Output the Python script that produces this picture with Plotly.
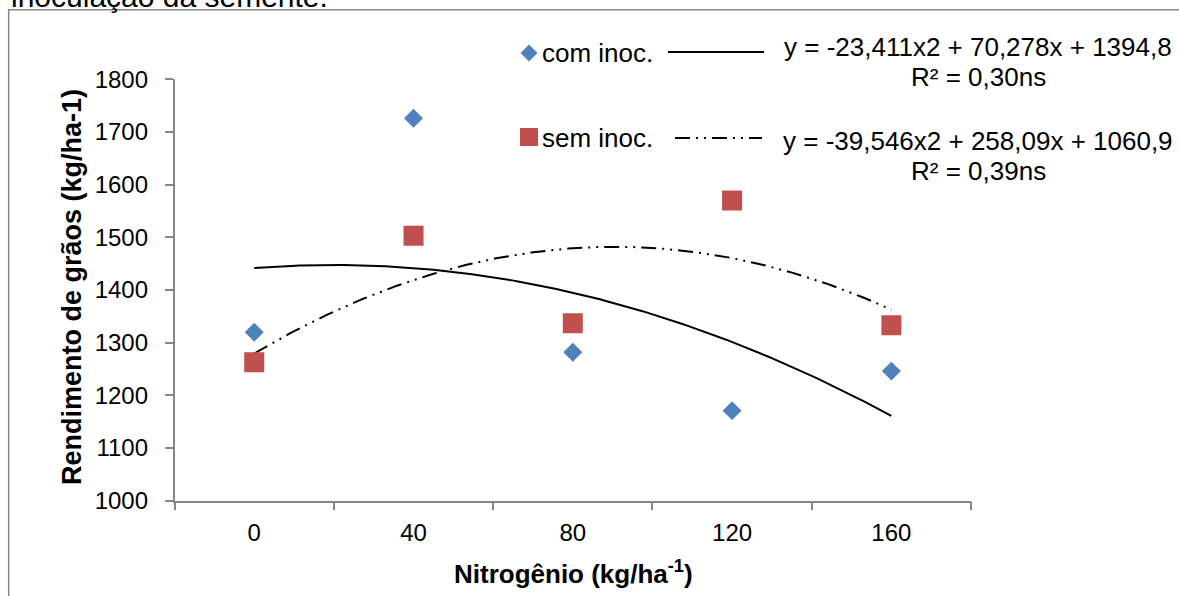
import numpy as np
import plotly.graph_objects as go

# ---------------- data ----------------
categories = ["0", "40", "80", "120", "160"]
com_inoc = [1320, 1726, 1282, 1171, 1246]
sem_inoc = [1263, 1503, 1337, 1570, 1333]
# displayed trendline equations (Excel polynomial, x = category index 1..5)
com_coef = [-23.411, 70.278, 1394.8]
sem_coef = [-39.546, 258.09, 1060.9]
com_r2 = "0,30ns"
sem_r2 = "0,39ns"
y_ticks = [1000, 1100, 1200, 1300, 1400, 1500, 1600, 1700, 1800]

W, H = 1179, 596
FONT = "Liberation Sans, Arial, sans-serif"
BLUE = "#4F81BD"
RED = "#C0504D"
AXC = "#868686"


def px(x):
    return x / W


def py(y):
    return 1 - y / H


xpos = list(range(1, len(categories) + 1))
xfine = np.linspace(1, len(categories), 200)


def poly(c, x):
    return c[0] * x ** 2 + c[1] * x + c[2]


def eq_text(c):
    def f(v):
        return ("%g" % v).replace(".", ",")
    return "y = %sx2 + %sx + %s" % (f(c[0]), f(c[1]), f(c[2]))


fig = go.Figure()
fig.add_trace(go.Scatter(x=xfine, y=poly(com_coef, xfine), mode="lines",
                         line=dict(color="black", width=2), showlegend=False))
fig.add_trace(go.Scatter(x=xfine, y=poly(sem_coef, xfine), mode="lines",
                         line=dict(color="black", width=2,
                                   dash="15px,6px,2px,6px,2px,6px"),
                         showlegend=False))
fig.add_trace(go.Scatter(x=xpos, y=com_inoc, mode="markers", name="com inoc.",
                         marker=dict(symbol="diamond", size=14.6, color=BLUE,
                                     line=dict(width=0)), showlegend=False))
fig.add_trace(go.Scatter(x=xpos, y=sem_inoc, mode="markers", name="sem inoc.",
                         marker=dict(symbol="square", size=20, color=RED,
                                     line=dict(width=0)), showlegend=False))

fig.update_xaxes(
    domain=[px(174.6), px(971)], range=[0.5, len(categories) + 0.5],
    tickmode="array", tickvals=xpos, ticktext=categories, ticks="",
    ticklabelstandoff=10,
    minor=dict(tickmode="array", tickvals=[i + 0.5 for i in range(len(categories) + 1)],
               ticks="outside", ticklen=8, tickcolor=AXC, tickwidth=1.5),
    showline=True, linecolor=AXC, linewidth=1.5, showgrid=False, zeroline=False,
    tickfont=dict(family=FONT, size=24, color="black"), fixedrange=True,
    automargin=False,
)
fig.update_yaxes(
    domain=[py(500.7), py(79.3)], range=[1000, 1800],
    tickmode="array", tickvals=y_ticks, ticks="outside", ticklen=8,
    tickcolor=AXC, tickwidth=1.5, ticklabelstandoff=12,
    showline=True, linecolor=AXC, linewidth=1.5, showgrid=False, zeroline=False,
    tickfont=dict(family=FONT, size=24, color="black"), fixedrange=True,
    automargin=False,
)

shapes = [
    # outer chart frame (top and left visible)
    dict(type="rect", xref="paper", yref="paper", x0=px(8.7), x1=px(1300),
         y0=py(700), y1=py(9.7), line=dict(color=AXC, width=1.5)),
    # legend markers
    dict(type="path", xref="paper", yref="paper", xsizemode="pixel", ysizemode="pixel",
         xanchor=px(529), yanchor=py(53),
         path="M -8.5 0 L 0 8.5 L 8.5 0 L 0 -8.5 Z", fillcolor=BLUE, line=dict(width=0)),
    dict(type="path", xref="paper", yref="paper", xsizemode="pixel", ysizemode="pixel",
         xanchor=px(529), yanchor=py(137),
         path="M -9 -9 L 9 -9 L 9 9 L -9 9 Z", fillcolor=RED, line=dict(width=0)),
    # legend line samples
    dict(type="line", xref="paper", yref="paper", x0=px(668), x1=px(764),
         y0=py(52), y1=py(52), line=dict(color="black", width=2)),
    dict(type="line", xref="paper", yref="paper", x0=px(675), x1=px(762),
         y0=py(138), y1=py(138),
         line=dict(color="black", width=2, dash="15px,6px,2px,6px,2px,6px")),
]

tf = dict(family=FONT, size=26, color="black")
annotations = [
    dict(text="inoculação da semente.", x=px(9), y=py(-3), xanchor="left",
         yanchor="middle", font=dict(family=FONT, size=30, color="black")),
    dict(text="com inoc.", x=px(540), y=py(53), xanchor="left", yanchor="middle", font=tf),
    dict(text="sem inoc.", x=px(540), y=py(138), xanchor="left", yanchor="middle", font=tf),
    dict(text=eq_text(com_coef), x=px(978), y=py(47), xanchor="center", yanchor="middle", font=tf),
    dict(text="R² = " + com_r2, x=px(978), y=py(77), xanchor="center", yanchor="middle", font=tf),
    dict(text=eq_text(sem_coef), x=px(978), y=py(141), xanchor="center", yanchor="middle", font=tf),
    dict(text="R² = " + sem_r2, x=px(978), y=py(171), xanchor="center", yanchor="middle", font=tf),
    dict(text="<b>Nitrogênio (kg/ha<sup>-1</sup>)</b>", x=px(573), y=py(572),
         xanchor="center", yanchor="middle", font=dict(family=FONT, size=26, color="black")),
    dict(text="<b>Rendimento de grãos (kg/ha-1)</b>", x=px(72), y=py(287), textangle=-90,
         xanchor="center", yanchor="middle", font=dict(family=FONT, size=27, color="black")),
]
for a in annotations:
    a.update(xref="paper", yref="paper", showarrow=False)

fig.update_layout(
    width=W, height=H, margin=dict(l=0, r=0, t=0, b=0, pad=0, autoexpand=False),
    paper_bgcolor="white", plot_bgcolor="white",
    shapes=shapes, annotations=annotations, showlegend=False,
    font=dict(family=FONT, color="black"),
)

fig.write_html("out.html", config={"displayModeBar": False},
               post_script="document.body.style.margin='0';document.body.style.overflow='hidden';")
